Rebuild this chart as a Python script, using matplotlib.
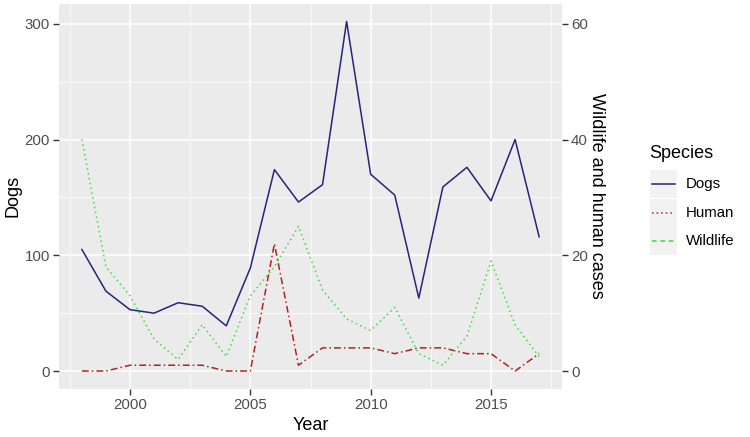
import matplotlib
matplotlib.use('Agg')
import matplotlib.pyplot as plt
from matplotlib.lines import Line2D
from matplotlib.patches import Rectangle
from matplotlib.ticker import MultipleLocator

plt.rcParams['font.family'] = ['Liberation Sans', 'DejaVu Sans']

# Data
years = list(range(1998, 2018))
dogs = [105, 69, 53, 50, 59, 56, 39, 89, 174, 146, 161, 302, 170, 152, 63, 159, 176, 147, 200, 116]
human = [0, 0, 1, 1, 1, 1, 0, 0, 22, 1, 4, 4, 4, 3, 4, 4, 3, 3, 0, 3]
wildlife = [40, 18, 13, 5.5, 2, 8, 2.5, 13, 18, 25, 14, 9, 7, 11, 3, 1, 6, 19, 8, 2.5]
scale = 5  # dogs axis / cases axis

dog_col = '#25257a'
hum_col = '#b22222'
wild_col = '#3cdc3c'

fig = plt.figure(figsize=(7.5, 4.37), dpi=100)
W, H = 750, 437
ax = fig.add_axes([59 / W, 1 - 388.5 / H, (562 - 59) / W, (388.5 - 4) / H])
ax.set_facecolor('#EBEBEB')
for s in ax.spines.values():
    s.set_visible(False)

ax.plot(years, dogs, color=dog_col, lw=1.1, zorder=3)

span = max(dogs) - 0
ylo, yhi = 0 - 0.05 * span, max(dogs) + 0.05 * span
ax.set_ylim(ylo, yhi)
xs = years[-1] - years[0]
ax.set_xlim(years[0] - 0.05 * xs, years[-1] + 0.05 * xs)

ax.xaxis.set_major_locator(MultipleLocator(5))
ax.xaxis.set_minor_locator(MultipleLocator(2.5))
ax.yaxis.set_major_locator(MultipleLocator(100))
ax.yaxis.set_minor_locator(MultipleLocator(50))
ax.grid(True, which='major', color='white', lw=1.1, zorder=0)
ax.grid(True, which='minor', color='white', lw=0.5, zorder=0)
ax.set_axisbelow(True)
ax.tick_params(which='major', length=4, width=1, color='#333333', labelcolor='#4D4D4D',
               labelsize=10.8, pad=2.5)
ax.tick_params(which='minor', length=0)

ax2 = ax.twinx()
ax2.set_ylim(ylo / scale, yhi / scale)
for s in ax2.spines.values():
    s.set_visible(False)
ax2.plot(years, human, color=hum_col, lw=1.1, dashes=(4.5, 2, 1, 2), zorder=3)
ax2.plot(years, wildlife, color=wild_col, lw=1.1, dashes=(1, 2.2), zorder=3)
ax2.yaxis.set_major_locator(MultipleLocator(20))
ax2.tick_params(length=4, width=1, color='#333333', labelcolor='#4D4D4D', labelsize=10.8, pad=2.5)

ax.set_xlabel('Year', fontsize=13, va='center')
ax.xaxis.set_label_coords(0.5, (388.5 - 425) / 384.5)
ax.set_ylabel('Dogs', fontsize=13, va='center')
ax.yaxis.set_label_coords((13 - 59) / 503, 0.5)
ax2.set_ylabel('Wildlife and human cases', fontsize=13, rotation=270, va='center')
ax2.yaxis.set_label_coords((597 - 59) / 503, 0.5)

# Legend (keys drawn as in the reference)
fig.text(649 / W, 1 - 153 / H, 'Species', fontsize=13, va='center', ha='left')
labels = ['Dogs', 'Human', 'Wildlife']
colors = [dog_col, hum_col, wild_col]
styles = [None, (1, 2), (3, 2.5)]
for i, (lab, c, d) in enumerate(zip(labels, colors, styles)):
    top = 170 + i * 28.5
    fig.patches.append(Rectangle((650 / W, 1 - (top + 28.5) / H), 27 / W, 28.5 / H,
                                 transform=fig.transFigure, facecolor='#F2F2F2',
                                 edgecolor='none'))
    yc = 1 - (top + 14.25) / H
    ln = Line2D([652 / W, 675 / W], [yc, yc], transform=fig.transFigure, color=c, lw=1.1)
    if d is not None:
        ln.set_dashes(d)
    fig.lines.append(ln)
    fig.text(686 / W, yc, lab, fontsize=10.8, va='center', ha='left')

plt.savefig('out.png', dpi=100)
